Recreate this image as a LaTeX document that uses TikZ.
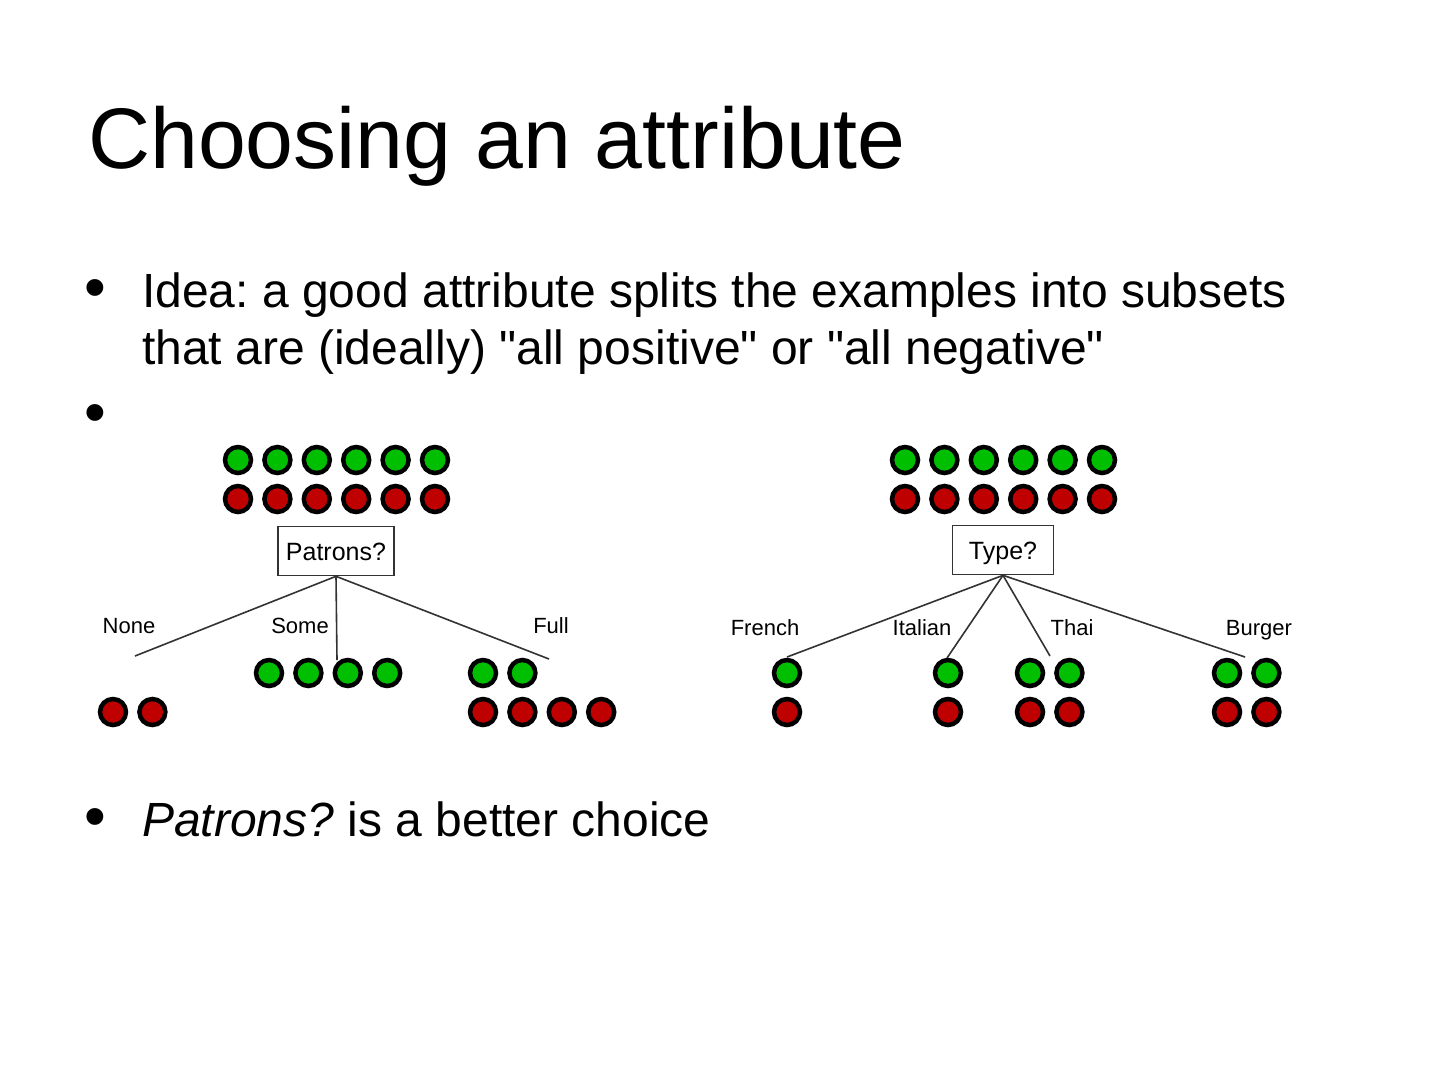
\documentclass[tikz,border=0pt]{standalone}
\usepackage{fontspec}
\setmainfont{Liberation Sans}
\newfontfamily\slidefont{Liberation Sans}
\frenchspacing
\usetikzlibrary{positioning}

\begin{document}
\begin{tikzpicture}[x=1pt, y=-1pt,
    title/.style={inner sep=0pt, anchor=base west, font=\slidefont\fontsize{86}{96}\selectfont},
    body/.style={inner sep=0pt, anchor=base west, font=\slidefont\fontsize{48}{57}\selectfont},
    dot/.style={inner sep=0pt, anchor=center, font=\slidefont\fontsize{62}{70}\selectfont},
    test/.style={rectangle, draw=black!80, line width=1.6pt, fill=white,
                 inner xsep=8pt, inner ysep=0pt, minimum height=49pt,
                 text height=18pt, text depth=0pt,
                 font=\slidefont\fontsize{25}{30}\selectfont},
    lbl/.style={inner sep=0pt, anchor=base, font=\slidefont\fontsize{22}{26}\selectfont},
    posdot/.style={circle, draw=black, line width=4.5pt, fill=green!75!black,
                minimum size=26pt, inner sep=0pt},
    negdot/.style={circle, draw=black, line width=4.5pt, fill=red!75!black,
                minimum size=26pt, inner sep=0pt},
    branch/.style={draw=black!80, line width=1.6pt}
  ]

    % Page
    \fill[white] (0,0) rectangle (1440,1080);
    \useasboundingbox (0,0) rectangle (1440,1080);

    % Title
    \node[title] (head) at (88,168) {Choosing an attribute};

    % Bullets
    \node[dot] (b1) at (95,294) {\textbullet};
    \node[body] (idea1) at (142,307) {Idea: a good attribute splits the examples into subsets};
    \node[body] (idea2) at (142,364) {that are (ideally) "all positive" or "all negative"};
    \node[dot] (b2) at (95,419) {\textbullet};
    \node[dot] (b3) at (95,823) {\textbullet};
    \node[body] (verdict) at (142,836) {\textit{Patrons?} is a better choice};

    % Patrons tree: all examples
    \foreach \i in {0,...,5} {
      \node[posdot] (pa\i) at (238+39.4*\i,460) {};
      \node[negdot] (pb\i) at (238+39.4*\i,499) {};
    }
    \node[test] (patrons) at (336,551) {Patrons?};

    \coordinate (none)  at (135,656);
    \coordinate (some)  at (337,660);
    \coordinate (full)  at (549,659);
    \draw[branch] (patrons.south) -- (none);
    \draw[branch] (patrons.south) -- (some);
    \draw[branch] (patrons.south) -- (full);

    \node[lbl] (lnone) at (129,633) {None};
    \node[lbl] (lsome) at (300,633) {Some};
    \node[lbl] (lfull) at (551,633) {Full};

    % None
    \foreach \i in {0,1}
      \node[negdot] (nn\i) at (113+39.4*\i,712) {};
    % Some
    \foreach \i in {0,...,3}
      \node[posdot] (sp\i) at (269+39.4*\i,673) {};
    % Full
    \foreach \i in {0,1}
      \node[posdot] (fp\i) at (483+39.4*\i,673) {};
    \foreach \i in {0,...,3}
      \node[negdot] (fn\i) at (483+39.4*\i,712) {};

    % Type tree: all examples
    \foreach \i in {0,...,5} {
      \node[posdot] (ta\i) at (905+39.4*\i,460) {};
      \node[negdot] (tb\i) at (905+39.4*\i,499) {};
    }
    \node[test, minimum width=101pt] (type) at (1003,550) {Type?};

    \coordinate (french)  at (787,657);
    \coordinate (italian) at (947,658);
    \coordinate (thai)    at (1050,656);
    \coordinate (burger)  at (1245,657);
    \draw[branch] (type.south) -- (french);
    \draw[branch] (type.south) -- (italian);
    \draw[branch] (type.south) -- (thai);
    \draw[branch] (type.south) -- (burger);

    \node[lbl] (lfrench)  at (765,635) {French};
    \node[lbl] (litalian) at (922,635) {Italian};
    \node[lbl] (lthai)    at (1072,635) {Thai};
    \node[lbl] (lburger)  at (1259,635) {Burger};

    % French
    \node[posdot] (frp) at (787,673) {};
    \node[negdot] (frn) at (787,712) {};
    % Italian
    \node[posdot] (itp) at (948,673) {};
    \node[negdot] (itn) at (948,712) {};
    % Thai
    \foreach \i in {0,1} {
      \node[posdot] (thp\i) at (1030+39.4*\i,673) {};
      \node[negdot] (thn\i) at (1030+39.4*\i,712) {};
    }
    % Burger
    \foreach \i in {0,1} {
      \node[posdot] (bup\i) at (1227+39.4*\i,673) {};
      \node[negdot] (bun\i) at (1227+39.4*\i,712) {};
    }

  \end{tikzpicture}
\end{document}
